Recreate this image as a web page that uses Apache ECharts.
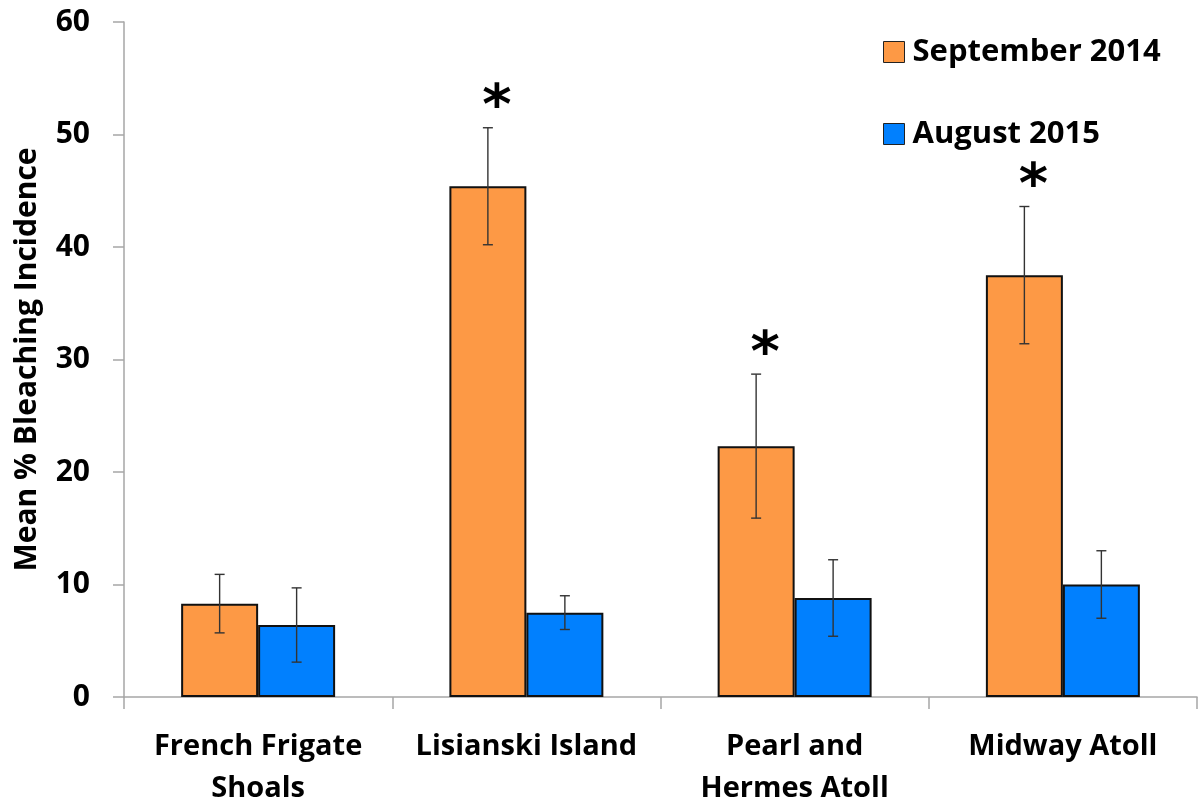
<!DOCTYPE html>
<html>
<head>
<meta charset="utf-8">
<script src="https://cdn.jsdelivr.net/npm/echarts@6/dist/echarts.min.js"></script>
<style>
  html, body { margin: 0; padding: 0; background: #fff; }
  #chart { width: 1199px; height: 808px; }
</style>
</head>
<body>
<div id="chart"></div>
<script>
// Mean % bleaching incidence per site, two survey periods
const sites = ['French Frigate\nShoals', 'Lisianski Island', 'Pearl and\nHermes Atoll', 'Midway Atoll'];
const seriesNames = ['September 2014', 'August 2015'];
const sep2014 = [8.3, 45.4, 22.3, 37.5];
const sep2014Err = [2.6, 5.2, 6.4, 6.1];
const aug2015 = [6.4, 7.5, 8.8, 10.0];
const aug2015Err = [3.3, 1.5, 3.4, 3.0];
// significant difference between surveys (marked with an asterisk)
const significant = [false, true, true, true];
const yTicks = { min: 0, max: 60, interval: 10 };

const colors = ['#FD9945', '#0180FE'];
const BAR_FRACTION = 0.287;
const FONT = '"Open Sans", sans-serif';

function errorSeries(values, errs, side, marks) {
  return {
    type: 'custom',
    name: seriesNames[side < 0 ? 0 : 1] + ' SE',
    z: 5,
    silent: true,
    data: values.map((v, i) => [i, v, errs[i], marks ? (marks[i] ? 1 : 0) : 0]),
    renderItem(params, api) {
      const i = api.value(0), v = api.value(1), e = api.value(2), mark = api.value(3);
      const band = api.size([1, 0])[0];
      const cx = api.coord([i, v])[0] + side * band * BAR_FRACTION / 2;
      const yTop = api.coord([i, v + e])[1];
      const yBot = api.coord([i, v - e])[1];
      const cap = 5;
      const style = { stroke: '#333', lineWidth: 1.4 };
      const children = [
        { type: 'line', shape: { x1: cx, y1: yTop, x2: cx, y2: yBot }, style },
        { type: 'line', shape: { x1: cx - cap, y1: yTop, x2: cx + cap, y2: yTop }, style },
        { type: 'line', shape: { x1: cx - cap, y1: yBot, x2: cx + cap, y2: yBot }, style }
      ];
      if (mark) {
        children.push({
          type: 'text',
          style: {
            text: '*', x: cx + 9, y: yTop + 9,
            fill: '#000', font: 'bold 56px "DejaVu Sans"',
            textAlign: 'center', textVerticalAlign: 'bottom'
          }
        });
      }
      return { type: 'group', children };
    }
  };
}

function legendFor(name, top) {
  return {
    data: [name],
    orient: 'vertical',
    left: 883, top: top,
    padding: 0,
    itemWidth: 21, itemHeight: 21,
    icon: 'rect',
    selectedMode: false,
    textStyle: { fontFamily: FONT, fontWeight: 'bold', fontSize: 31, lineHeight: 24, color: '#000', padding: [0, 0, 0, 3] },
    itemStyle: { borderColor: '#222', borderWidth: 1 }
  };
}

const chart = echarts.init(document.getElementById('chart'), null, { renderer: 'canvas' });
chart.setOption({
  animation: false,
  backgroundColor: '#fff',
  grid: { left: 124, right: 2, top: 22, bottom: 111, containLabel: false, outerBoundsMode: 'none' },
  legend: [legendFor(seriesNames[0], 36.5), legendFor(seriesNames[1], 118.5)],
  xAxis: {
    type: 'category',
    data: sites,
    axisLine: { lineStyle: { color: '#a6a6a6', width: 1.5 } },
    axisTick: { show: true, alignWithLabel: false, length: 12, lineStyle: { color: '#a6a6a6', width: 1.5 } },
    axisLabel: {
      fontFamily: FONT, fontWeight: 'bold', fontSize: 29, color: '#000',
      lineHeight: 42, margin: 29, interval: 0
    }
  },
  yAxis: {
    type: 'value',
    min: yTicks.min, max: yTicks.max, interval: yTicks.interval,
    name: 'Mean % Bleaching Incidence',
    nameLocation: 'middle',
    nameGap: 82,
    nameTextStyle: { fontFamily: FONT, fontWeight: 'bold', fontSize: 30, color: '#000' },
    axisLine: { show: true, lineStyle: { color: '#a6a6a6', width: 1.5 } },
    axisTick: { show: true, length: 11, lineStyle: { color: '#a6a6a6', width: 1.5 } },
    splitLine: { show: false },
    axisLabel: { fontFamily: FONT, fontWeight: 'bold', fontSize: 30, color: '#000', margin: 34 }
  },
  series: [
    {
      name: seriesNames[0], type: 'bar', data: sep2014,
      barWidth: (BAR_FRACTION * 100) + '%', barGap: '0%',
      itemStyle: { color: colors[0], borderColor: '#111', borderWidth: 2 }
    },
    {
      name: seriesNames[1], type: 'bar', data: aug2015,
      barWidth: (BAR_FRACTION * 100) + '%', barGap: '0%',
      itemStyle: { color: colors[1], borderColor: '#111', borderWidth: 2 }
    },
    errorSeries(sep2014, sep2014Err, -1, significant),
    errorSeries(aug2015, aug2015Err, 1, null)
  ]
});
</script>
</body>
</html>
